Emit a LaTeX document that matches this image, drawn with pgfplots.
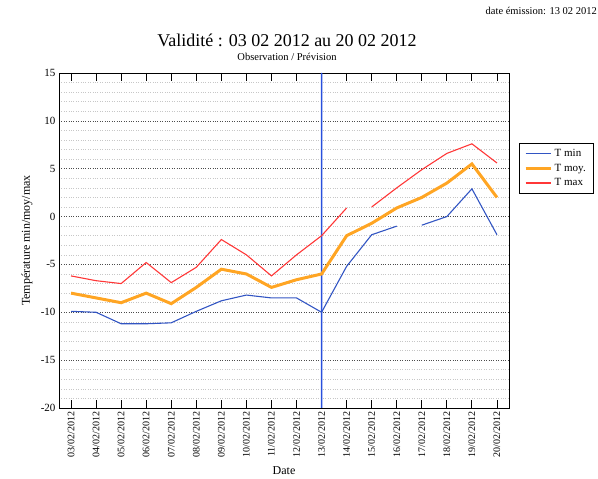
\documentclass[border=0pt]{standalone}
\usepackage{pgfplots}
\pgfplotsset{compat=1.18}
\usepackage{fontspec}
\setmainfont{Liberation Serif}

\definecolor{tmin}{RGB}{50,85,195}
\definecolor{tmoy}{RGB}{255,165,35}
\definecolor{tmax}{RGB}{255,55,55}
\definecolor{vligne}{RGB}{40,80,220}

\begin{document}
\begin{tikzpicture}
\useasboundingbox (-59pt,-71pt) rectangle (539pt,408pt);
\begin{axis}[
    scale only axis,
    width=450pt, height=335pt,
    at={(0,0)}, anchor=south west,
    xmin=-0.48, xmax=17.48,
    ymin=-20, ymax=15,
    ytick={-20,-15,...,15},
    minor ytick={-19,...,14},
    xtick={0,...,17},
    xticklabels={03/02/2012,04/02/2012,05/02/2012,06/02/2012,07/02/2012,08/02/2012,09/02/2012,10/02/2012,11/02/2012,12/02/2012,13/02/2012,14/02/2012,15/02/2012,16/02/2012,17/02/2012,18/02/2012,19/02/2012,20/02/2012},
    x tick label style={rotate=90, anchor=east, font=\fontsize{10}{10}\selectfont},
    y tick label style={font=\fontsize{11}{11}\selectfont},
    /pgf/number format/assume math mode=true,
    major tick length=8pt,
    ytick style={draw=none},
    minor y tick style={draw=none},
    xtick style={black, line width=0.9pt},
    ymajorgrids, yminorgrids,
    major grid style={black!70, dotted, line width=0.6pt},
    minor grid style={black!22, dotted, line width=0.5pt},
    axis line style={black, line width=0.9pt},
    xlabel={Date},
    xlabel style={at={(axis description cs:0.5,-0.188)}, anchor=center, font=\fontsize{12}{12}\selectfont},
    ylabel={Température min/moy/max},
    ylabel style={at={(axis description cs:-0.071,0.5)}, anchor=center, font=\fontsize{12}{12}\selectfont},
    unbounded coords=jump,
    legend style={at={(axis description cs:1.022,0.791)}, anchor=north west,
        draw=black, font=\fontsize{11}{12}\selectfont, row sep=2pt,
        inner xsep=5pt, inner ysep=4pt},
    legend cell align=left,
    legend image post style={xscale=1.5},
]
\addplot[color=vligne, line width=1.6pt, forget plot] coordinates {(9.999,-20) (10.001,15)};
\addplot[color=tmin, line width=1.1pt] coordinates {
 (0,-9.9) (1,-10.0) (2,-11.2) (3,-11.2) (4,-11.1) (5,-9.9) (6,-8.8) (7,-8.2)
 (8,-8.5) (9,-8.5) (10,-10.0) (11,-5.2) (12,-1.9) (13,-1.0) (13.5,nan)
 (14,-0.9) (15,0.0) (16,2.9) (17,-1.9)};
\addlegendentry{T min}
\addplot[color=tmoy, line width=3pt] coordinates {
 (0,-8.0) (1,-8.5) (2,-9.0) (3,-8.0) (4,-9.1) (5,-7.4) (6,-5.5) (7,-6.0)
 (8,-7.4) (9,-6.6) (10,-6.0) (11,-2.0) (12,-0.7) (13,0.9) (14,2.0)
 (15,3.5) (16,5.5) (17,2.0)};
\addlegendentry{T moy.}
\addplot[color=tmax, line width=1.1pt] coordinates {
 (0,-6.2) (1,-6.7) (2,-7.0) (3,-4.8) (4,-6.9) (5,-5.3) (6,-2.4) (7,-4.0)
 (8,-6.2) (9,-4.0) (10,-2.0) (11,0.9) (11.5,nan) (12,1.0) (13,3.0)
 (14,4.9) (15,6.6) (16,7.6) (17,5.6)};
\addlegendentry{T max}
\end{axis}
\node[font=\fontsize{18}{20}\selectfont, anchor=base] at (228pt,361pt) {Validité : 03 02 2012 au 20 02 2012};
\node[font=\fontsize{10.5}{12}\selectfont, anchor=base] at (228pt,347pt) {Observation / Prévision};
\node[font=\fontsize{10.5}{12}\selectfont, anchor=base east, inner sep=0pt] at (538pt,393pt) {date émission: 13 02 2012};
\end{tikzpicture}
\end{document}
